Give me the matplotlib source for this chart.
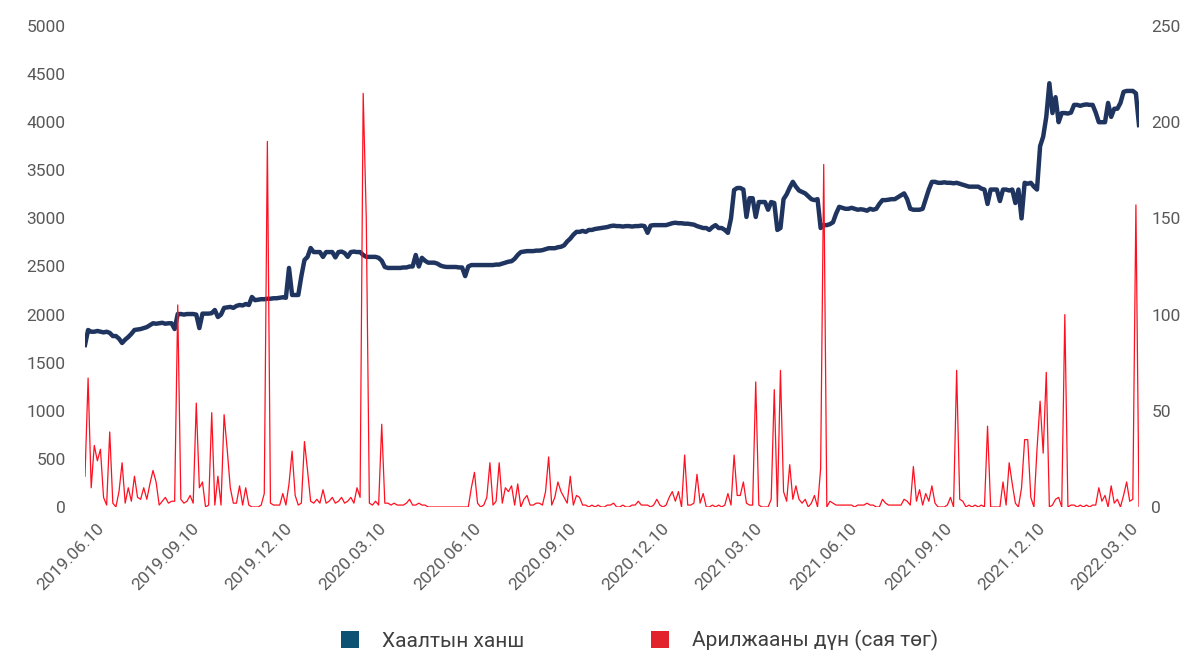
import pandas as pd
import matplotlib.pyplot as plt
import matplotlib.transforms as mtransforms
from matplotlib.patches import Patch

plt.rcParams['font.family'] = ['Roboto', 'DejaVu Sans']

# closing price, one reading every 3 days starting 2019-06-03
close_price = [
    1684, 1840, 1822, 1822, 1830, 1822, 1815, 1822, 1810, 1777,
    1777, 1750, 1705, 1740, 1767, 1800, 1840, 1845, 1850, 1860,
    1870, 1890, 1910, 1905, 1910, 1915, 1905, 1910, 1910, 1850,
    2006, 2006, 2000, 2006, 2006, 2006, 2000, 1860, 2010, 2010,
    2010, 2015, 2048, 1975, 2000, 2070, 2075, 2080, 2070, 2090,
    2100, 2095, 2110, 2100, 2183, 2150, 2155, 2160, 2160, 2165,
    2165, 2170, 2170, 2175, 2180, 2175, 2485, 2204, 2204, 2204,
    2400, 2567, 2600, 2692, 2650, 2650, 2650, 2600, 2650, 2650,
    2650, 2595, 2650, 2655, 2640, 2600, 2650, 2655, 2650, 2650,
    2620, 2600, 2600, 2600, 2600, 2590, 2560, 2495, 2485, 2485,
    2485, 2485, 2485, 2490, 2490, 2500, 2500, 2620, 2500, 2590,
    2560, 2540, 2540, 2540, 2530, 2510, 2500, 2495, 2495, 2495,
    2495, 2490, 2490, 2400, 2500, 2515, 2515, 2515, 2515, 2515,
    2515, 2515, 2515, 2520, 2520, 2530, 2540, 2550, 2555, 2580,
    2620, 2650, 2655, 2660, 2660, 2660, 2665, 2665, 2670, 2680,
    2690, 2690, 2690, 2700, 2705, 2720, 2760, 2790, 2830, 2860,
    2860, 2870, 2860, 2880, 2880, 2890, 2895, 2900, 2905, 2910,
    2920, 2925, 2920, 2920, 2915, 2920, 2920, 2915, 2920, 2920,
    2925, 2920, 2850, 2925, 2930, 2930, 2930, 2930, 2930, 2940,
    2950, 2955, 2950, 2950, 2945, 2945, 2940, 2935, 2920, 2910,
    2900, 2900, 2880, 2910, 2930, 2900, 2900, 2880, 2850, 3000,
    3295, 3316, 3316, 3300, 3015, 3210, 3210, 3015, 3170, 3170,
    3170, 3090, 3170, 3160, 2880, 2900, 3200, 3250, 3320, 3380,
    3330, 3290, 3275, 3260, 3230, 3200, 3190, 3200, 2900, 2930,
    2930, 2940, 2960, 3050, 3120, 3110, 3100, 3100, 3110, 3100,
    3090, 3095, 3090, 3080, 3100, 3090, 3100, 3150, 3190, 3190,
    3195, 3200, 3200, 3220, 3240, 3260, 3200, 3100, 3090, 3090,
    3090, 3100, 3200, 3300, 3380, 3380, 3370, 3370, 3375, 3370,
    3370, 3365, 3370, 3360, 3350, 3340, 3330, 3330, 3330, 3330,
    3310, 3300, 3150, 3300, 3300, 3300, 3180, 3300, 3300, 3290,
    3300, 3160, 3300, 3000, 3370, 3360, 3370, 3330, 3300, 3750,
    3850, 4055, 4405, 4095, 4260, 4000, 4095, 4095, 4090, 4100,
    4180, 4180, 4170, 4180, 4185, 4180, 4180, 4100, 4000, 4000,
    4000, 4200, 4055, 4140, 4140, 4200, 4315, 4325, 4325, 4325,
    4300, 3970,
]

# trading value (million MNT), same dates
trade_value = [
    16, 67, 10, 32, 24, 30, 5, 1, 39, 2,
    0, 8, 23, 2, 10, 3, 16, 5, 4, 10,
    4, 12, 19, 13, 1, 3, 5, 2, 3, 3,
    105, 4, 2, 3, 6, 2, 54, 10, 13, 0,
    1, 49, 1, 16, 1, 48, 30, 10, 2, 2,
    11, 1, 10, 1, 0, 0, 0, 1, 7, 190,
    2, 1, 1, 1, 7, 1, 12, 29, 6, 1,
    2, 34, 19, 3, 2, 4, 2, 9, 2, 3,
    5, 2, 3, 5, 2, 3, 5, 2, 10, 5,
    215, 150, 2, 1, 3, 1, 43, 2, 2, 1,
    2, 1, 1, 1, 2, 4, 1, 1, 2, 1,
    1, 0, 0, 0, 0, 0, 0, 0, 0, 0,
    0, 0, 0, 0, 0, 10, 18, 2, 0, 1,
    5, 23, 1, 3, 23, 2, 10, 8, 11, 1,
    12, 0, 4, 6, 1, 1, 2, 2, 1, 8,
    26, 1, 5, 13, 8, 5, 2, 16, 1, 6,
    5, 1, 1, 0, 1, 0, 1, 0, 0, 1,
    1, 2, 0, 0, 1, 0, 0, 1, 1, 3,
    1, 1, 1, 0, 1, 4, 1, 0, 1, 5,
    8, 3, 8, 0, 27, 1, 1, 2, 17, 2,
    7, 0, 0, 1, 0, 1, 0, 1, 7, 1,
    27, 6, 6, 13, 2, 1, 1, 65, 1, 0,
    0, 0, 4, 61, 0, 71, 8, 3, 22, 4,
    11, 4, 2, 4, 0, 2, 6, 0, 20, 178,
    0, 3, 2, 1, 1, 1, 1, 1, 1, 0,
    1, 1, 1, 2, 1, 1, 0, 0, 4, 2,
    1, 1, 1, 1, 1, 4, 3, 1, 21, 3,
    9, 1, 7, 3, 11, 2, 0, 0, 0, 1,
    5, 0, 71, 4, 3, 0, 1, 0, 1, 0,
    1, 0, 42, 0, 0, 0, 0, 13, 1, 23,
    12, 2, 0, 10, 35, 35, 5, 0, 30, 55,
    28, 70, 0, 1, 4, 5, 0, 100, 0, 1,
    1, 0, 1, 0, 1, 0, 1, 1, 10, 3,
    6, 0, 11, 2, 4, 0, 6, 13, 3, 4,
    157, 0,
]

dates = pd.date_range('2019-06-03', periods=len(close_price), freq='3D')
tick_dates = pd.date_range('2019-06-10', '2022-03-10', freq=pd.DateOffset(months=3))
tick_labels = [d.strftime('%Y.%m.%d') for d in tick_dates]

label_color = '#595959'

fig = plt.figure(figsize=(11.93, 6.58), dpi=100)
ax = fig.add_axes([85 / 1193, 1 - 507 / 658, (1139 - 85) / 1193, 481 / 658])

ax.plot(dates, close_price, color='#1F3560', lw=3.2, solid_joinstyle='round')
ax.set_ylim(0, 5000)
ax.set_yticks(range(0, 5001, 500))
ax.set_xlim(dates[0], dates[-1])
ax.set_xticks(tick_dates)
ax.set_xticklabels(tick_labels, rotation=45, ha='right', rotation_mode='anchor')

ax2 = ax.twinx()
ax2.plot(dates, trade_value, color='#FF1020', lw=0.9)
ax2.set_ylim(0, 250)
ax2.set_yticks(range(0, 251, 50))

for a in (ax, ax2):
    for s in a.spines.values():
        s.set_visible(False)
    a.tick_params(length=0, colors=label_color, labelsize=12.5)
ax.tick_params(axis='y', pad=14)
ax.tick_params(axis='x', pad=10)
ax2.tick_params(axis='y', pad=9)

# nudge the rotated date labels a little to the right
shift = mtransforms.ScaledTranslation(4 / 100, 0, fig.dpi_scale_trans)
for lbl in ax.get_xticklabels():
    lbl.set_transform(lbl.get_transform() + shift)

handles = [Patch(facecolor='#0D5173', label='Хаалтын ханш'),
           Patch(facecolor='#E2232B', label='Арилжааны дүн (сая төг)')]
fig.legend(handles=handles, loc='center', bbox_to_anchor=(0.536, 0.026), ncol=2,
           frameon=False, fontsize=15, handlelength=0.85, handleheight=0.85,
           handletextpad=1.1, columnspacing=6.1, labelcolor='#404040')

fig.savefig('out.png', dpi=100)
